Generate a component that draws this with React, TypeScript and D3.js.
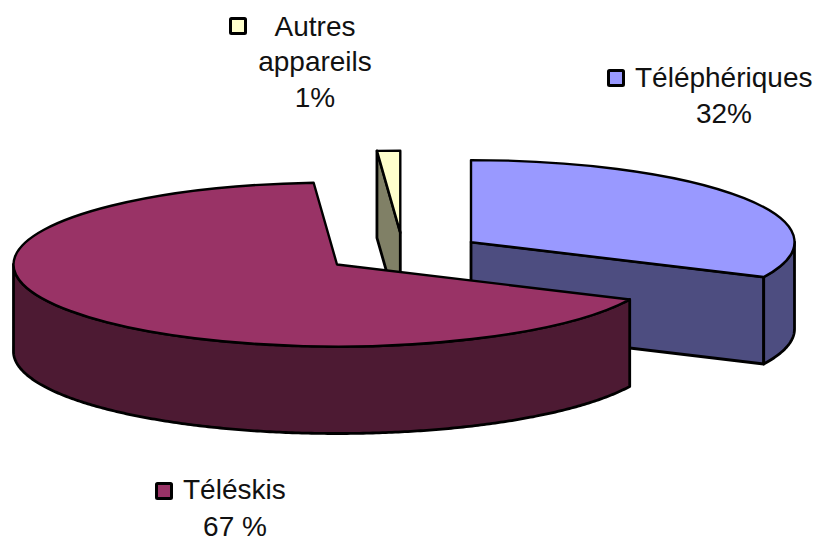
import React, { useEffect, useRef } from 'react';
import * as d3 from 'd3';

const categories = ['Téléphériques', 'Téléskis', 'Autres appareils'];
const shares = [32, 66.85, 1.15];
const topColors = ['#9999ff', '#993366', '#ffffcc'];
const sideColors = ['#4d4d80', '#4d1a33', '#808066'];

const width = 817;
const height = 538;
const centerX = 403.2;
const centerY = 253;
const radiusX = 323.5;
const radiusY = 82;
const depth = 87;
const explode = 80.3;

// drawn back to front, the way the 3D pie stacks
const drawOrder = [2, 0, 1];

const labels = [
  { key: 0, lines: ['Téléphériques', '32%'], anchors: [635, 724], baselines: [87, 123], swatch: [608.5, 70.5], anchor: ['start', 'middle'] },
  { key: 1, lines: ['Téléskis', '67 %'], anchors: [183, 235], baselines: [499, 536], swatch: [156.5, 483.5], anchor: ['start', 'middle'] },
  { key: 2, lines: ['Autres', 'appareils', '1%'], anchors: [315, 315, 315], baselines: [36, 71, 107], swatch: [230.5, 18.5], anchor: ['middle', 'middle', 'middle'] },
];

const App = () => {
  const svgRef = useRef<SVGSVGElement>(null);

  useEffect(() => {
    const svg = d3.select(svgRef.current);
    svg.selectAll('*').remove();

    const pie = d3.pie<number>().sort(null).value(d => d);
    const slices = pie(shares);

    const arc = d3.arc<d3.PieArcDatum<number>>()
      .innerRadius(0)
      .outerRadius(radiusX);

    const line = d3.line<[number, number]>();

    drawOrder.forEach(i => {
      const s = slices[i];
      const mid = (s.startAngle + s.endAngle) / 2;
      const cx = centerX + explode * Math.sin(mid);
      const cy = centerY - explode * Math.cos(mid) * (radiusY / radiusX);
      const rim = (a: number, drop = 0): [number, number] => [
        cx + radiusX * Math.sin(a),
        cy - radiusY * Math.cos(a) + drop,
      ];

      const g = svg.append('g');
      const side = (pts: [number, number][]) =>
        g.append('path')
          .attr('d', line(pts) + 'Z')
          .attr('fill', sideColors[i])
          .attr('stroke', '#000')
          .attr('stroke-width', 2.8)
          .attr('stroke-linejoin', 'round');

      // cut faces that look toward the viewer
      if (Math.cos(s.endAngle) < 0) {
        const e = rim(s.endAngle);
        side([[cx, cy], e, [e[0], e[1] + depth], [cx, cy + depth]]);
      }
      if (Math.cos(s.startAngle) > 0 && i === 2) {
        const e = rim(s.startAngle);
        side([[cx, cy], e, [e[0], e[1] + depth], [cx, cy + depth]]);
      }

      // outer wall, only the front half of the rim shows
      const from = Math.max(s.startAngle, Math.PI / 2);
      const to = Math.min(s.endAngle, (3 * Math.PI) / 2);
      if (to > from) {
        const angles = d3.range(from, to, 0.01).concat(to);
        side([
          ...angles.map(a => rim(a)),
          ...angles.slice().reverse().map(a => rim(a, depth)),
        ]);
      }

      g.append('path')
        .attr('d', arc(s))
        .attr('transform', `translate(${cx},${cy}) scale(1,${radiusY / radiusX})`)
        .attr('fill', topColors[i])
        .attr('stroke', '#000')
        .attr('stroke-width', 2.4)
        .attr('stroke-linejoin', 'round')
        .attr('vector-effect', 'non-scaling-stroke');
    });

    labels.forEach(l => {
      svg.append('rect')
        .attr('x', l.swatch[0])
        .attr('y', l.swatch[1])
        .attr('width', 15)
        .attr('height', 15)
        .attr('rx', 1)
        .attr('fill', topColors[l.key])
        .attr('stroke', '#000')
        .attr('stroke-width', 3);

      l.lines.forEach((t, j) => {
        svg.append('text')
          .attr('x', l.anchors[j])
          .attr('y', l.baselines[j])
          .attr('text-anchor', l.anchor[j])
          .attr('font-family', '"Liberation Sans", Arial, sans-serif')
          .attr('font-size', 28)
          .attr('fill', '#111')
          .text(t);
      });
    });
  }, []);

  return (
    <svg
      ref={svgRef}
      width={width}
      height={height}
      aria-label={categories.join(', ')}
      style={{ position: 'absolute', left: 0, top: 0, display: 'block', background: '#fff' }}
    />
  );
};

export default App;
